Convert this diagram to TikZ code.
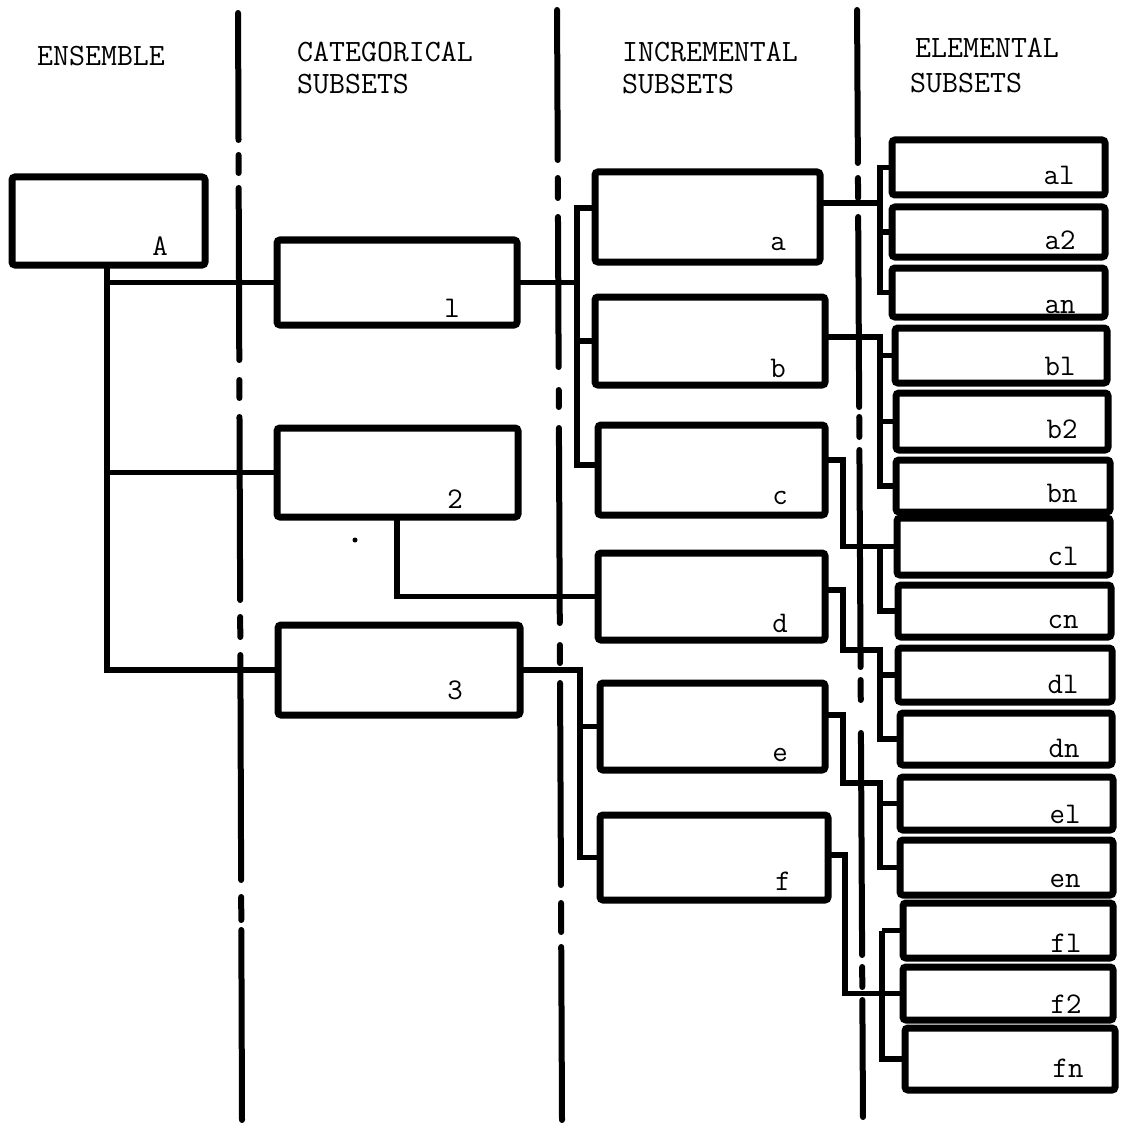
\documentclass[tikz,border=0pt]{standalone}
\usetikzlibrary{calc}
\newcommand\mkbox[5]{\node[box, minimum width={(#4-#2)*1pt}, minimum height={(#5-#3)*1pt}] (#1) at ({(#2+#4)/2},{(#3+#5)/2}) {};}
\begin{document}
\begin{tikzpicture}[x=1pt,y=-1pt,
  box/.style={draw, line width=7pt, rounded corners=3pt, inner sep=0pt, outer sep=0pt},
  conn/.style={line width=5.5pt, line join=miter},
  divider/.style={line width=6pt, line cap=round},
  lbl/.style={font=\fontsize{30}{33}\selectfont\ttfamily, inner sep=0pt, anchor=base},
  hdr/.style={font=\fontsize{31}{34}\selectfont\ttfamily, inner sep=0pt, anchor=base west}]
\path[use as bounding box] (0,0) rectangle (1122,1123);

% dividers
\foreach \a/\b in {13/140,155/173,188/360,380/398,417/600,617/637,655/880,897/920,930/1120}
  \draw[divider] ({238+4*\a/1120},\a) -- ({238+4*\b/1120},\b);
\foreach \a/\b in {10/160,178/198,217/367,390/407,428/623,645/663,683/885,903/932,947/1120}
  \draw[divider] ({557+5*\a/1120},\a) -- ({557+5*\b/1120},\b);
\foreach \a/\b in {10/163,178/198,217/407,417/437,450/667,680/700,733/955,967/987,1000/1117}
  \draw[divider] ({857+6*\a/1120},\a) -- ({857+6*\b/1120},\b);

% headers
\node[hdr] (hE) at (37,66) {ENSEMBLE};
\node[hdr] (hC1) at (297,62) {CATEGORICAL};
\node[hdr] (hC2) at (297,94) {SUBSETS};
\node[hdr] (hI1) at (622,62) {INCREMENTAL};
\node[hdr] (hI2) at (622,94) {SUBSETS};
\node[hdr] (hL1) at (915,58) {ELEMENTAL};
\node[hdr] (hL2) at (910,93) {SUBSETS};

% boxes
\mkbox{A}{12}{177}{205}{265}
\mkbox{C1}{277}{240}{517}{325}
\mkbox{C2}{277}{428}{518}{517}
\mkbox{C3}{278}{625}{520}{715}
\mkbox{Ia}{595}{172}{820}{262}
\mkbox{Ib}{595}{297}{825}{385}
\mkbox{Ic}{598}{425}{825}{515}
\mkbox{Id}{598}{553}{825}{640}
\mkbox{Ie}{600}{683}{825}{770}
\mkbox{If}{600}{815}{828}{900}
\mkbox{a1}{892}{140}{1105}{195}
\mkbox{a2}{892}{207}{1105}{257}
\mkbox{an}{892}{268}{1105}{317}
\mkbox{b1}{895}{328}{1107}{383}
\mkbox{b2}{896}{393}{1108}{450}
\mkbox{bn}{896}{460}{1110}{512}
\mkbox{c1}{897}{518}{1110}{575}
\mkbox{cn}{898}{585}{1111}{637}
\mkbox{d1}{898}{648}{1112}{702}
\mkbox{dn}{900}{713}{1112}{765}
\mkbox{e1}{900}{777}{1113}{830}
\mkbox{en}{900}{840}{1113}{895}
\mkbox{f1}{903}{903}{1113}{958}
\mkbox{f2}{903}{967}{1113}{1020}
\mkbox{fn}{905}{1028}{1115}{1090}

% labels
\node[lbl] (lA) at (160,255) {A};
\node[lbl] (l1) at (452,317) {l};
\node[lbl] (l2) at (455,508) {2};
\node[lbl] (l3) at (455,699) {3};
\node[lbl] (la) at (778,251) {a};
\node[lbl] (lb) at (778,377) {b};
\node[lbl] (lc) at (780,504) {c};
\node[lbl] (ld) at (780,632) {d};
\node[lbl] (le) at (780,761) {e};
\node[lbl] (lf) at (783,890) {f};
\node[lbl] (la1) at (1059,185) {al};
\node[lbl] (la2) at (1060,250) {a2};
\node[lbl] (lan) at (1060,313) {an};
\node[lbl] (lb1) at (1060,375) {bl};
\node[lbl] (lb2) at (1062,438) {b2};
\node[lbl] (lbn) at (1062,502) {bn};
\node[lbl] (lc1) at (1063,565) {cl};
\node[lbl] (lcn) at (1063,628) {cn};
\node[lbl] (ld1) at (1063,693) {dl};
\node[lbl] (ldn) at (1064,757) {dn};
\node[lbl] (le1) at (1065,823) {el};
\node[lbl] (len) at (1065,887) {en};
\node[lbl] (lf1) at (1066,952) {fl};
\node[lbl] (lf2) at (1066,1013) {f2};
\node[lbl] (lfn) at (1068,1077) {fn};

% junction coordinates
\coordinate (sA) at (107,0);
\coordinate (t1) at (577,208);
\coordinate (u1) at (577,465);
\coordinate (s2) at (397,0);
\coordinate (s3) at (580,0);
\coordinate (sa) at (880,203);
\coordinate (sb) at (880,337);
\coordinate (jc) at (843,460);
\coordinate (jd) at (843,590);
\coordinate (kd) at (843,650);
\coordinate (je) at (843,715);
\coordinate (ke) at (843,783);
\coordinate (jf) at (845,855);
\coordinate (xs) at (880,0);
\coordinate (xf) at (882,0);

% left connectors
\draw[conn] (A.south -| sA) |- (C3.west);
\draw[conn] (sA |- C1.west) -- (C1.west);
\draw[conn] (sA |- C2.west) -- (C2.west);
\draw[conn] (C1.east) -- (C1.east -| t1);
\draw[conn] (Ia.west |- t1) -- (t1) -- (u1) -- (Ic.west |- u1);
\draw[conn] (Ib.west -| t1) -- (Ib.west);
\draw[conn] (C2.south -| s2) |- (Id.west);
\draw[conn] (C3.east) -- (C3.east -| s3) |- (If.west);
\draw[conn] (Ie.west -| s3) -- (Ie.west);

% right connectors
\draw[conn] (Ia.east |- sa) -- (sa);
\draw[conn] (a1.west) -| (sa) |- (an.west);
\draw[conn] (a2.west -| sa) -- (a2.west);
\draw[conn] (Ib.east |- sb) -- (sb) |- (bn.west);
\draw[conn] (b1.west -| sb) -- (b1.west);
\draw[conn] (b2.west -| sb) -- (b2.west);
\draw[conn] (Ic.east |- jc) -- (jc) |- (c1.west);
\draw[conn] (c1.west -| xs) |- (cn.west);
\draw[conn] (Id.east |- jd) -- (jd) -- (kd) -- (kd -| xs) |- (dn.west);
\draw[conn] (d1.west -| xs) -- (d1.west);
\draw[conn] (Ie.east |- je) -- (je) -- (ke) -- (ke -| xs) |- (en.west);
\draw[conn] (e1.west -| xs) -- (e1.west);
\draw[conn] (If.east |- jf) -- (jf) |- (f2.west);
\draw[conn] (f1.west -| xf) -- (f1.west);
\draw[conn] (f1.west -| xf) |- (fn.west);

% speck
\fill (355,540) circle (2.5pt);
\end{tikzpicture}
\end{document}
